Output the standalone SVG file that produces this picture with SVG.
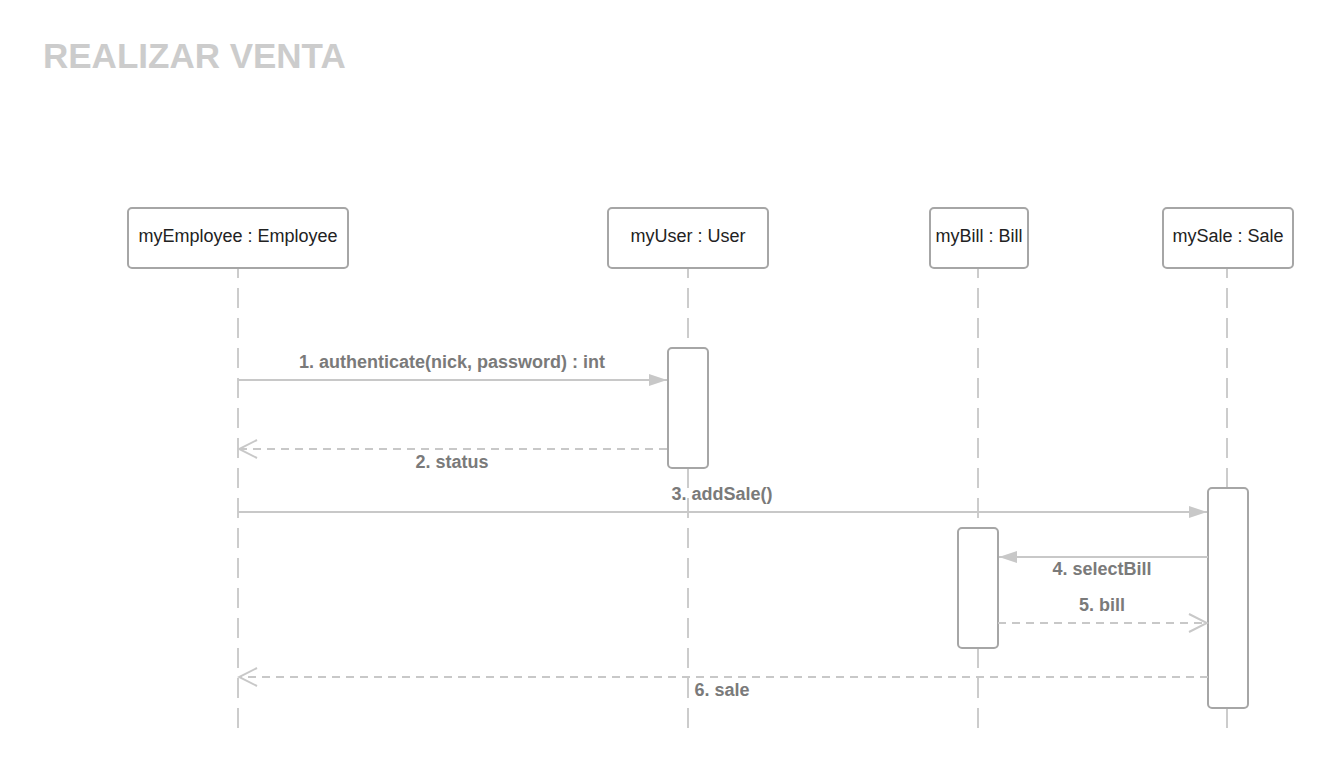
<svg xmlns="http://www.w3.org/2000/svg" width="1333" height="768" viewBox="0 0 1333 768">
<style>
.node rect{fill:#fff;stroke:#a6a6a6;stroke-width:2}
.node text{font-family:"Liberation Sans",Arial,sans-serif;font-size:18px;fill:#222;text-anchor:middle}
.life{stroke:#ccc;stroke-width:2;stroke-dasharray:20 10;stroke-dashoffset:10}
.act{fill:#fff;stroke:#a6a6a6;stroke-width:2}
.msg{stroke:#c8c8c8;stroke-width:2;fill:none}
.ret{stroke:#c8c8c8;stroke-width:2;fill:none;stroke-dasharray:8 6}
.lbl{font-family:"Liberation Sans",Arial,sans-serif;font-size:18px;font-weight:bold;fill:#7a7a7a;text-anchor:middle}
</style>
<defs>
<marker id="filled" markerWidth="20" markerHeight="14" refX="19" refY="7" orient="auto" markerUnits="userSpaceOnUse">
<path d="M1,1 L19,7 L1,13 Z" fill="#c8c8c8"/>
</marker>
<marker id="open" markerWidth="22" markerHeight="22" refX="20" refY="11" orient="auto" markerUnits="userSpaceOnUse">
<path d="M2,2 L20,11 L2,20" fill="none" stroke="#c8c8c8" stroke-width="2"/>
</marker>
</defs>
<rect width="1333" height="768" fill="#fff"/>
<text x="43" y="68" font-family="Liberation Sans,Arial,sans-serif" font-size="35" font-weight="bold" fill="#cccccc">REALIZAR VENTA</text>
<g id="lifelines">
<line class="life" x1="238" y1="268" x2="238" y2="728"/>
<line class="life" x1="688" y1="268" x2="688" y2="728"/>
<line class="life" x1="978" y1="268" x2="978" y2="728"/>
<line class="life" x1="1227" y1="268" x2="1227" y2="728"/>
</g>
<g id="myEmployee" class="node"><rect x="128" y="208" width="220" height="60" rx="4"/><text x="238" y="242">myEmployee : Employee</text></g>
<g id="myUser" class="node"><rect x="608" y="208" width="160" height="60" rx="4"/><text x="688" y="242">myUser : User</text></g>
<g id="myBill" class="node"><rect x="930" y="208" width="98" height="60" rx="4"/><text x="979" y="242">myBill : Bill</text></g>
<g id="mySale" class="node"><rect x="1163" y="208" width="130" height="60" rx="4"/><text x="1228" y="242">mySale : Sale</text></g>
<g id="activations">
<rect class="act" x="668" y="348" width="40" height="120" rx="4"/>
<rect class="act" x="1208" y="488" width="40" height="220" rx="4"/>
<rect class="act" x="958" y="528" width="40" height="120" rx="4"/>
</g>
<g id="connectors">
<line class="msg" x1="238" y1="380" x2="667" y2="380" marker-end="url(#filled)"/>
<line class="ret" x1="667" y1="449" x2="239" y2="449" marker-end="url(#open)"/>
<line class="msg" x1="238" y1="512" x2="1207" y2="512" marker-end="url(#filled)"/>
<line class="msg" x1="1208" y1="557" x2="999" y2="557" marker-end="url(#filled)"/>
<line class="ret" x1="998" y1="623" x2="1207" y2="623" marker-end="url(#open)"/>
<line class="ret" x1="1208" y1="677" x2="239" y2="677" marker-end="url(#open)"/>
</g>
<g id="labels">
<text class="lbl" x="452" y="368">1. authenticate(nick, password) : int</text>
<text class="lbl" x="452" y="468">2. status</text>
<text class="lbl" x="722" y="500">3. addSale()</text>
<text class="lbl" x="1102" y="575">4. selectBill</text>
<text class="lbl" x="1102" y="611">5. bill</text>
<text class="lbl" x="722" y="696">6. sale</text>
</g>
</svg>
